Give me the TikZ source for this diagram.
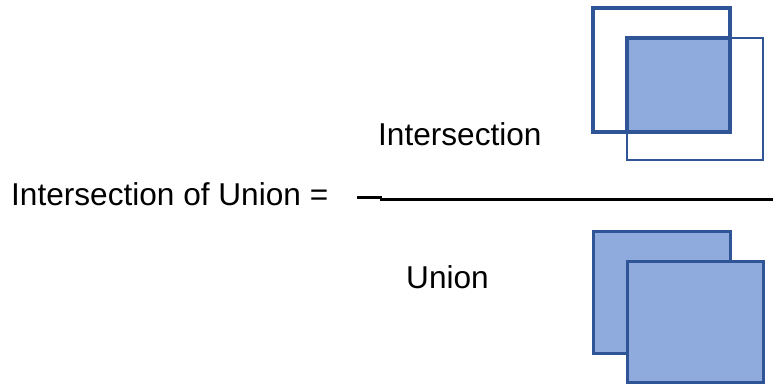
\documentclass[tikz,border=0pt]{standalone}
\usepackage{fontspec}
\setmainfont{Liberation Sans}
\definecolor{boxfill}{HTML}{8FAADC}
\definecolor{boxline}{HTML}{2F5597}
\begin{document}
\begin{tikzpicture}[x=1pt,y=-1pt,
  lbl/.style={inner sep=0pt,anchor=base west,font=\fontsize{31.6}{36}\selectfont},
  thickbox/.style={draw=boxline,line width=3.5pt},
  thinbox/.style={draw=boxline,line width=2.3pt},
  filledbox/.style={draw=boxline,fill=boxfill,line width=3pt}]
\useasboundingbox (0,0) rectangle (773,385);
% texts
\node[lbl] (iou) at (11,205) {Intersection of Union =};
\node[lbl] (inter) at (378,145) {Intersection};
\node[lbl] (union) at (406,288) {Union};
% fraction bar
\coordinate (b1) at (357,197);
\coordinate (b2) at (382,197);
\coordinate (b3) at (380,199);
\coordinate (b4) at (773,199);
\draw[line width=3pt] (b1) -- (b2);
\draw[line width=3pt] (b3) -- (b4);
% intersection picture
\draw[thickbox] (593,8) rectangle (730,132);
\draw[thinbox] (627,38) rectangle (763,160);
\fill[boxfill] (627,38) rectangle (730,132);
\draw[thickbox] (627,132) -- (627,38) -- (730,38);
\draw[thickbox] (730,38) -- (730,132) -- (627,132);
% union picture
\draw[filledbox] (593,231) rectangle (730,353);
\draw[filledbox] (627,261) rectangle (763,382);
\end{tikzpicture}
\end{document}
